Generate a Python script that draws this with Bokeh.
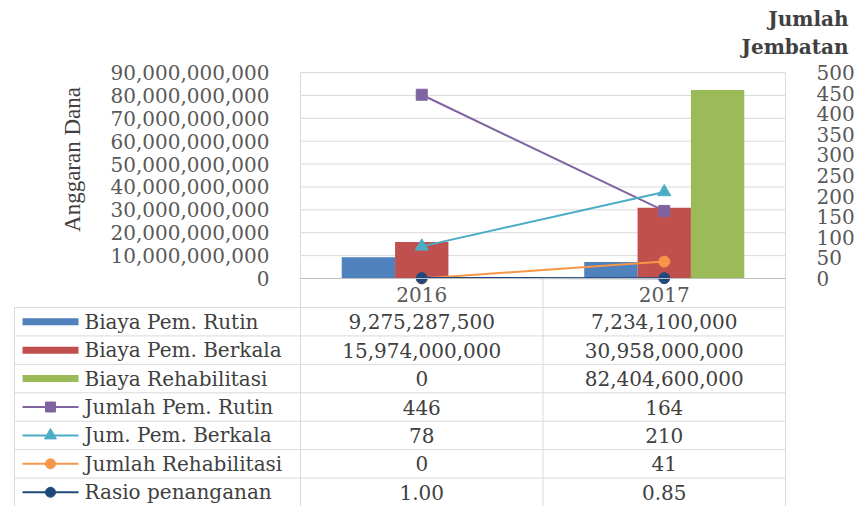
import math

from bokeh.plotting import figure
from bokeh.models import Range1d, LinearAxis, FixedTicker, NumeralTickFormatter
from bokeh.core.properties import value
from bokeh.embed import file_html
from bokeh.resources import INLINE

# ---- data -------------------------------------------------------------
years = ["2016", "2017"]

biaya_pem_rutin = [9275287500, 7234100000]
biaya_pem_berkala = [15974000000, 30958000000]
biaya_rehabilitasi = [0, 82404600000]

jumlah_pem_rutin = [446, 164]
jum_pem_berkala = [78, 210]
jumlah_rehabilitasi = [0, 41]
rasio_penanganan = [1.00, 0.85]

left_ticks = [0, 10e9, 20e9, 30e9, 40e9, 50e9, 60e9, 70e9, 80e9, 90e9]
right_ticks = [0, 50, 100, 150, 200, 250, 300, 350, 400, 450, 500]

# ---- page geometry (pixels) -------------------------------------------
W, H = 858, 506
PLOT_L, PLOT_R = 300, 785
PLOT_T, PLOT_B = 72, 278
TBL_L = 14
HEAD_B = 307
ROW_H = (H - HEAD_B) / 7

LEFT_MAX = left_ticks[-1]
RIGHT_MAX = right_ticks[-1]

n = len(years)
cw = (PLOT_R - PLOT_L) / n
span = PLOT_B - PLOT_T

x_range = Range1d(-PLOT_L / cw, (W - PLOT_L) / cw)
y_range = Range1d(-(H - PLOT_B) / span * LEFT_MAX, PLOT_B / span * LEFT_MAX)

p = figure(width=W, height=H, x_range=x_range, y_range=y_range,
           output_backend="svg", toolbar_location=None,
           x_axis_location=None, y_axis_location=None,
           min_border=0, title=None)
p.outline_line_color = None
p.grid.grid_line_color = None
p.background_fill_color = "white"
p.border_fill_color = "white"

p.extra_y_ranges = {
    "right": Range1d(-(H - PLOT_B) / span * RIGHT_MAX, PLOT_B / span * RIGHT_MAX),
    "px": Range1d(H, 0),
}
p.extra_x_ranges = {"px": Range1d(0, W)}

GRID = "#D9D9D9"
TXT = "#595959"
SERIF = value("DejaVu Serif")

# ---- grid and frame lines ---------------------------------------------
p.segment(x0=0, x1=n, y0=left_ticks[1:], y1=left_ticks[1:],
          line_color=GRID, line_width=1)

# vertical borders: plot sides run down through the table, middle one only in the table
p.segment(x0=[0, n, n / 2], x1=[0, n, n / 2],
          y0=[PLOT_T, PLOT_T, PLOT_B], y1=[H, H, H],
          y_range_name="px", line_color=GRID, line_width=1)
p.segment(x0=[TBL_L], x1=[TBL_L], y0=[HEAD_B], y1=[H],
          x_range_name="px", y_range_name="px", line_color=GRID, line_width=1)
row_edges = [HEAD_B + ROW_H * k for k in range(8)]
p.segment(x0=TBL_L, x1=PLOT_R, y0=row_edges, y1=row_edges,
          x_range_name="px", y_range_name="px", line_color=GRID, line_width=1)

# ---- bars ---------------------------------------------------------------
bar_w = 0.22
bars = [
    ("Biaya Pem. Rutin", biaya_pem_rutin, "#4F81BD", -bar_w),
    ("Biaya Pem. Berkala", biaya_pem_berkala, "#C0504D", 0.0),
    ("Biaya Rehabilitasi", biaya_rehabilitasi, "#9BBB59", bar_w),
]
for name, vals, col, off in bars:
    xs = [i + 0.5 + off for i in range(n)]
    p.vbar(x=xs, top=vals, bottom=0, width=bar_w, fill_color=col, line_color=None)

# ---- lines on the right axis ------------------------------------------
lines = [
    ("Jumlah Pem. Rutin", jumlah_pem_rutin, "#8064A2", "square", 11),
    ("Jum. Pem. Berkala", jum_pem_berkala, "#4BACC6", "triangle", 13),
    ("Jumlah Rehabilitasi", jumlah_rehabilitasi, "#F79646", "circle", 11),
    ("Rasio penanganan", rasio_penanganan, "#1F497D", "circle", 11),
]
cx = [i + 0.5 for i in range(n)]
for name, vals, col, mk, sz in lines:
    p.line(cx, vals, y_range_name="right", line_color=col, line_width=2)
    p.scatter(cx, vals, y_range_name="right", marker=mk, size=sz,
              fill_color=col, line_color=col)

# ---- axes -------------------------------------------------------------
def style_axis(ax):
    ax.major_tick_line_color = None
    ax.minor_tick_line_color = None
    ax.major_label_text_font = "DejaVu Serif"
    ax.major_label_text_font_size = "20px"
    ax.major_label_text_color = TXT

yl = LinearAxis(ticker=FixedTicker(ticks=left_ticks),
                formatter=NumeralTickFormatter(format="0,0"),
                fixed_location=0)
style_axis(yl)
yl.axis_line_color = None
yl.major_label_standoff = 25
p.add_layout(yl, "left")

yr = LinearAxis(y_range_name="right", ticker=FixedTicker(ticks=right_ticks),
                fixed_location=n)
style_axis(yr)
yr.axis_line_color = None
yr.major_label_standoff = 25
p.add_layout(yr, "right")

xb = LinearAxis(ticker=FixedTicker(ticks=cx),
                major_label_overrides={c: y for c, y in zip(cx, years)},
                fixed_location=0, bounds=(0, n))
style_axis(xb)
xb.axis_line_color = "#BFBFBF"
xb.major_label_standoff = 2
p.add_layout(xb, "below")

# ---- axis titles -------------------------------------------------------
p.text(x=[72], y=[(PLOT_T + PLOT_B) / 2 - 16], text=["Anggaran Dana"],
       x_range_name="px", y_range_name="px", angle=math.pi / 2,
       text_align="center", text_baseline="middle",
       text_font=value("Liberation Serif"), text_font_size=value("23px"),
       text_color="#404040")
p.text(x=[848, 848], y=[18, 46], text=["Jumlah", "Jembatan"],
       x_range_name="px", y_range_name="px",
       text_align="right", text_baseline="middle",
       text_font=SERIF, text_font_size=value("20px"), text_font_style="bold",
       text_color="#404040")

# ---- data table ---------------------------------------------------------
rows = []
for name, vals, col, _ in bars:
    rows.append((name, [f"{v:,}" for v in vals], col, "bar", None, None))
for name, vals, col, mk, sz in lines:
    if name == "Rasio penanganan":
        txt = [f"{v:.2f}" for v in vals]
    else:
        txt = [f"{v:,}" for v in vals]
    rows.append((name, txt, col, "line", mk, sz))

KEY_X0, KEY_X1, LABEL_X = 22, 78, 84
for k, (name, txt, col, kind, mk, sz) in enumerate(rows):
    yc = HEAD_B + ROW_H * (k + 0.5)
    if kind == "bar":
        p.segment(x0=[KEY_X0], x1=[KEY_X1], y0=[yc], y1=[yc],
                  x_range_name="px", y_range_name="px",
                  line_color=col, line_width=7)
    else:
        p.segment(x0=[KEY_X0], x1=[KEY_X1], y0=[yc], y1=[yc],
                  x_range_name="px", y_range_name="px",
                  line_color=col, line_width=2)
        p.scatter(x=[(KEY_X0 + KEY_X1) / 2], y=[yc], marker=mk, size=sz - 1,
                  x_range_name="px", y_range_name="px",
                  fill_color=col, line_color=col)
    p.text(x=[LABEL_X], y=[yc], text=[name],
           x_range_name="px", y_range_name="px",
           text_align="left", text_baseline="middle",
           text_font=SERIF, text_font_size=value("20px"), text_color="#404040")
    p.text(x=cx, y=[yc] * n, text=txt, y_range_name="px",
           text_align="center", text_baseline="middle",
           text_font=SERIF, text_font_size=value("20px"), text_color="#404040")

open("out.html", "w").write(file_html(p, INLINE))
